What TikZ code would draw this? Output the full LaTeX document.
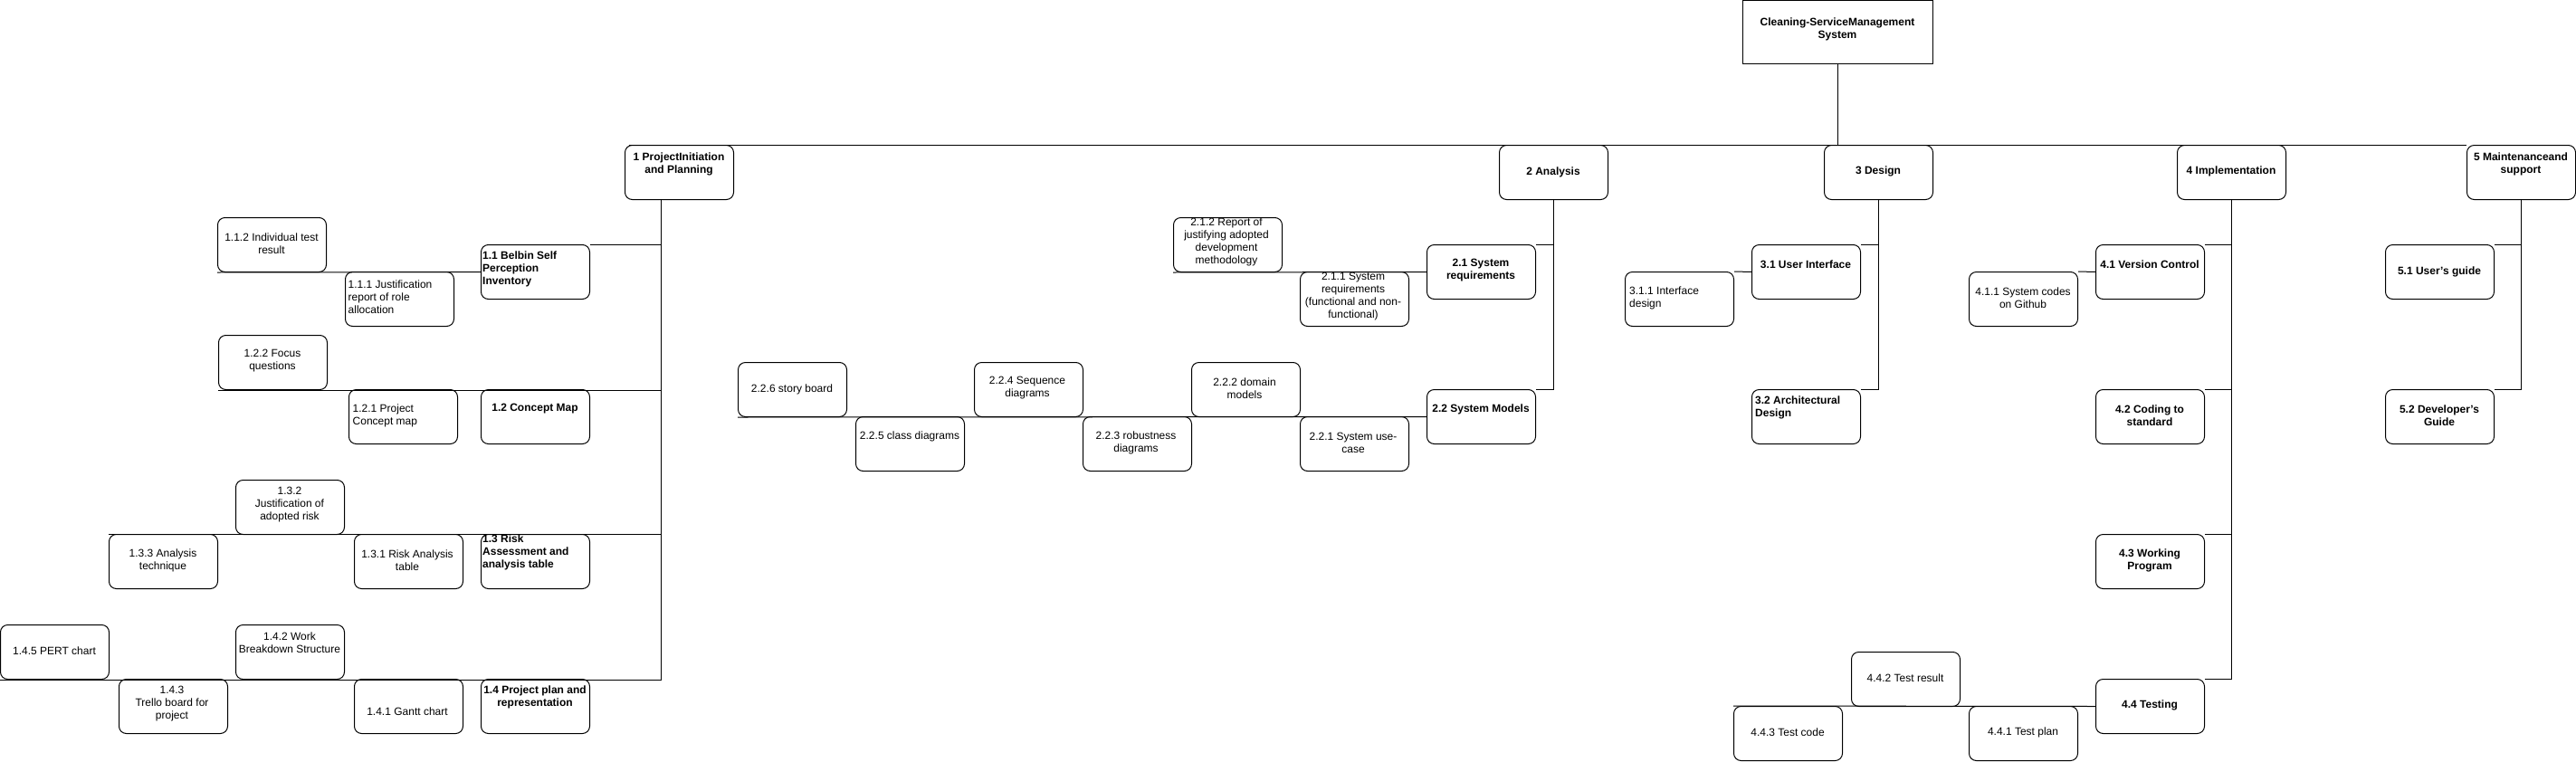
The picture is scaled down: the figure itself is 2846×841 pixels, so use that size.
\documentclass[tikz,border=0pt]{standalone}
\usepackage{fontspec}
\setmainfont{Liberation Sans}
\tikzset{
  box/.style={draw, rounded corners=8pt, minimum width=120pt, minimum height=60pt, inner sep=0pt, anchor=north west, line width=1pt},
  rootbox/.style={draw, minimum width=210pt, minimum height=70pt, inner sep=0pt, anchor=north west, line width=1pt},
  lbl/.style={inner sep=0pt, align=center, font=\fontsize{12}{14}\selectfont},
  lblb/.style={inner sep=0pt, align=center, font=\fontsize{12}{14}\selectfont\bfseries},
  lft/.style={anchor=west, align=left},
  conn/.style={line width=1pt}
}
\begin{document}
\begin{tikzpicture}[x=1pt,y=-1pt]
\useasboundingbox (0,0) rectangle (2846,841);
% root
\node[rootbox] (root) at (1925,0) {};
\node[lblb] (roott) at (2030,32) {Cleaning-ServiceManagement\\System};
% level 1
\node[box] (b1) at (690,160) {};
\node[lblb] (b1t) at (750,181) {1 ProjectInitiation\\and Planning};
\node[box] (b2) at (1656,160) {};
\node[lblb] (b2t) at (1716,190) {2 Analysis};
\node[box] (b3) at (2015,160) {};
\node[lblb] (b3t) at (2075,189) {3 Design};
\node[box] (b4) at (2405,160) {};
\node[lblb] (b4t) at (2465,189) {4 Implementation};
\node[box] (b5) at (2725,160) {};
\node[lblb] (b5t) at (2785,181) {5 Maintenanceand\\support};
% level 2 - branch 1
\node[box] (n11) at (531,270) {};
\node[lblb,lft] (n11t) at (533,297.5) {1.1 Belbin Self\\Perception\\Inventory};
\node[box] (n12) at (531,430) {};
\node[lblb] (n12t) at (591,452) {1.2 Concept Map};
\node[box] (n13) at (531,590) {};
\node[lblb,lft] (n13t) at (533,610) {1.3 Risk\\Assessment and\\analysis table};
\node[box] (n14) at (531,750) {};
\node[lblb] (n14t) at (591,770.5) {1.4 Project plan and\\representation};
% level 3 - branch 1
\node[box] (n112) at (240,240) {};
\node[lbl] (n112t) at (300,269) {1.1.2 Individual test\\result};
\node[box] (n111) at (381,300) {};
\node[lbl,lft] (n111t) at (384.5,328) {1.1.1 Justification\\report of role\\allocation};
\node[box] (n122) at (241,370) {};
\node[lbl] (n122t) at (301,399) {1.2.2 Focus\\questions};
\node[box] (n121) at (385,430) {};
\node[lbl,lft] (n121t) at (389.5,459) {1.2.1 Project\\Concept map};
\node[box] (n132) at (260,530) {};
\node[lbl] (n132t) at (320,557.5) {1.3.2\\Justification of\\adopted risk};
\node[box] (n133) at (120,590) {};
\node[lbl] (n133t) at (180,619) {1.3.3 Analysis\\technique};
\node[box] (n131) at (391,590) {};
\node[lbl] (n131t) at (450,619) {1.3.1 Risk Analysis\\table};
\node[box] (n145) at (0,690) {};
\node[lbl] (n145t) at (60,719) {1.4.5 PERT chart};
\node[box] (n142) at (260,690) {};
\node[lbl] (n142t) at (320,710) {1.4.2 Work\\Breakdown Structure};
\node[box] (n143) at (131,750) {};
\node[lbl] (n143t) at (190,777.5) {1.4.3\\Trello board for\\project};
\node[box] (n141) at (391,750) {};
\node[lbl] (n141t) at (450,786) {1.4.1 Gantt chart};
% branch 2
\node[box] (n21) at (1576,270) {};
\node[lblb] (n21t) at (1636,299) {2.1 System\\requirements};
\node[box] (n22) at (1576,430) {};
\node[lblb] (n22t) at (1636,452) {2.2 System Models};
\node[box] (n212) at (1296,240) {};
\node[lbl] (n212t) at (1355,267) {2.1.2 Report of\\justifying adopted\\development\\methodology};
\node[box] (n211) at (1436,300) {};
\node[lbl] (n211t) at (1495,327.5) {2.1.1 System\\requirements\\(functional and non-\\functional)};
\node[box] (n226) at (815,400) {};
\node[lbl] (n226t) at (875,430) {2.2.6 story board};
\node[box] (n225) at (945,460) {};
\node[lbl] (n225t) at (1005,482) {2.2.5 class diagrams};
\node[box] (n224) at (1076,400) {};
\node[lbl] (n224t) at (1135,429) {2.2.4 Sequence\\diagrams};
\node[box] (n223) at (1196,460) {};
\node[lbl] (n223t) at (1255,489) {2.2.3 robustness\\diagrams};
\node[box] (n222) at (1316,400) {};
\node[lbl] (n222t) at (1375,429) {2.2.2 domain\\models};
\node[box] (n221) at (1436,460) {};
\node[lbl] (n221t) at (1495,489) {2.2.1 System use-\\case};
% branch 3
\node[box] (n31) at (1935,270) {};
\node[lblb] (n31t) at (1995,292) {3.1 User Interface};
\node[box] (n32) at (1935,430) {};
\node[lblb,lft] (n32t) at (1939,450) {3.2 Architectural\\Design};
\node[box] (n311) at (1795,300) {};
\node[lbl,lft] (n311t) at (1800,329) {3.1.1 Interface\\design};
% branch 4
\node[box] (n41) at (2315,270) {};
\node[lblb] (n41t) at (2375,292) {4.1 Version Control};
\node[box] (n42) at (2315,430) {};
\node[lblb] (n42t) at (2375,459) {4.2 Coding to\\standard};
\node[box] (n43) at (2315,590) {};
\node[lblb] (n43t) at (2375,619) {4.3 Working\\Program};
\node[box] (n44) at (2315,750) {};
\node[lblb] (n44t) at (2375,779) {4.4 Testing};
\node[box] (n411) at (2175,300) {};
\node[lbl] (n411t) at (2235,329) {4.1.1 System codes\\on Github};
\node[box] (n442) at (2045,720) {};
\node[lbl] (n442t) at (2105,749) {4.4.2 Test result};
\node[box] (n443) at (1915,780) {};
\node[lbl] (n443t) at (1975,809) {4.4.3 Test code};
\node[box] (n441) at (2175,780) {};
\node[lbl] (n441t) at (2235,809) {4.4.1 Test plan};
% branch 5
\node[box] (n51) at (2635,270) {};
\node[lblb] (n51t) at (2695,300) {5.1 User’s guide};
\node[box] (n52) at (2635,430) {};
\node[lblb] (n52t) at (2695,459) {5.2 Developer’s\\Guide};
% connectors
\draw[conn] (root.south) -- (root.south |- b1.north);
\draw[conn] ([xshift=5pt]b1.north west) -- (b5.north west);
% branch 1
\draw[conn] ([xshift=-20pt]b1.south) |- (n11.north east);
\draw[conn] ([xshift=-20pt]b1.south) |- (n122.south west);
\draw[conn] ([xshift=-20pt]b1.south) |- (n133.north west);
\draw[conn] ([xshift=-20pt]b1.south) |- (n145.south west);
\draw[conn] (n11.west) -- (n112.south west);
% branch 2
\draw[conn] (b2.south) |- (n21.north east);
\draw[conn] (b2.south) |- (n22.north east);
\draw[conn] (n21.west) -- (n212.south west);
\draw[conn] (n22.west) -- (n226.south west);
% branch 3
\draw[conn] (b3.south) |- (n31.north east);
\draw[conn] (b3.south) |- (n32.north east);
\draw[conn] (n31.west) -- (n311.north east);
% branch 4
\draw[conn] (b4.south) |- (n41.north east);
\draw[conn] (b4.south) |- (n42.north east);
\draw[conn] (b4.south) |- (n43.north east);
\draw[conn] (b4.south) |- (n44.north east);
\draw[conn] (n41.west) -- (n411.north east);
\draw[conn] (n44.west) -- (n443.north west);
% branch 5
\draw[conn] (b5.south) |- (n51.north east);
\draw[conn] (b5.south) |- (n52.north east);
\end{tikzpicture}
\end{document}
